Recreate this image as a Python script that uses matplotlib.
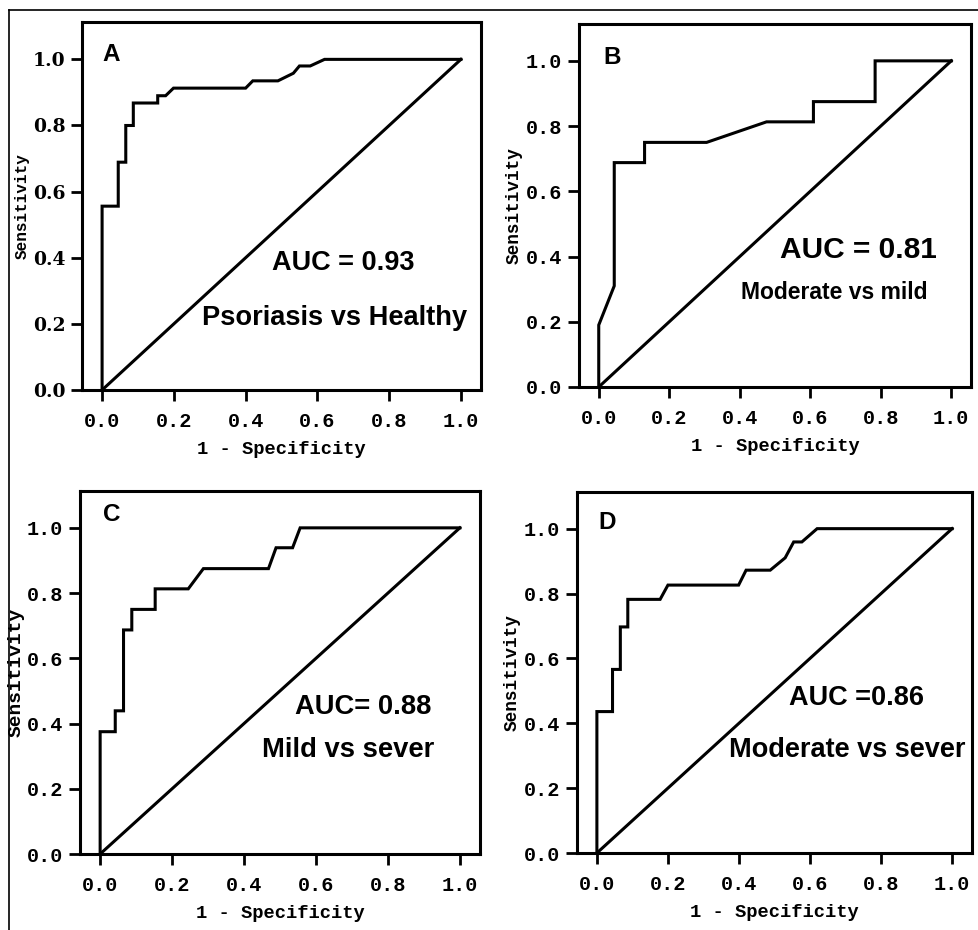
import numpy as np
import matplotlib.pyplot as plt
from matplotlib.lines import Line2D

# ROC points (1 - specificity, sensitivity)
fpr_a = [0, 0, 0.045, 0.045, 0.066, 0.066, 0.087, 0.087, 0.155, 0.155, 0.177, 0.199, 0.40, 0.42,
         0.49, 0.533, 0.55, 0.58, 0.62, 1.0]
tpr_a = [0, 0.556, 0.556, 0.689, 0.689, 0.80, 0.80, 0.868, 0.868, 0.89, 0.89, 0.913, 0.913, 0.935,
         0.935, 0.958, 0.98, 0.98, 1.0, 1.0]

fpr_b = [0, 0, 0.044, 0.044, 0.13, 0.13, 0.306, 0.476, 0.609, 0.609, 0.784, 0.784, 1.0]
tpr_b = [0, 0.19, 0.31, 0.688, 0.688, 0.75, 0.75, 0.813, 0.813, 0.875, 0.875, 1.0, 1.0]

fpr_c = [0, 0, 0.042, 0.042, 0.065, 0.065, 0.088, 0.088, 0.153, 0.153, 0.245, 0.287, 0.468, 0.489,
         0.535, 0.556, 1.0]
tpr_c = [0, 0.375, 0.375, 0.439, 0.439, 0.687, 0.687, 0.75, 0.75, 0.813, 0.813, 0.875, 0.875, 0.939,
         0.939, 1.0, 1.0]

fpr_d = [0, 0, 0.044, 0.044, 0.066, 0.066, 0.087, 0.087, 0.178, 0.20, 0.399, 0.42, 0.488, 0.53,
         0.554, 0.577, 0.62, 1.0]
tpr_d = [0, 0.436, 0.436, 0.566, 0.566, 0.697, 0.697, 0.782, 0.782, 0.826, 0.826, 0.872, 0.872, 0.91,
         0.959, 0.959, 1.0, 1.0]

panel_letters = ['A', 'B', 'C', 'D']
auc_texts = ['AUC = 0.93', 'AUC = 0.81', 'AUC= 0.88', 'AUC =0.86']
group_texts = ['Psoriasis vs Healthy', 'Moderate vs mild', 'Mild vs sever', 'Moderate vs sever']
ticks = [0.0, 0.2, 0.4, 0.6, 0.8, 1.0]
tick_labels = ['0.0', '0.2', '0.4', '0.6', '0.8', '1.0']

W, H = 979, 930
fig = plt.figure(figsize=(W / 100, H / 100), dpi=100)

# frame around the whole figure (top and left edges visible)
fig.add_artist(Line2D([9 / W, 9 / W], [0, 1 - 10 / H], color='black', lw=1.2, transform=fig.transFigure))
fig.add_artist(Line2D([9 / W, 1], [1 - 10 / H, 1 - 10 / H], color='black', lw=1.2, transform=fig.transFigure))

# axes boxes in pixels: left, right, top, bottom
boxes = [(82, 481, 22, 390), (579, 971, 24, 387), (80, 480, 491, 854), (577, 972, 492, 853)]
curves = [(fpr_a, tpr_a), (fpr_b, tpr_b), (fpr_c, tpr_c), (fpr_d, tpr_d)]
letter_pos = [(0.0, 1.015), (0.012, 1.01), (0.008, 1.04), (0.005, 1.02)]
auc_pos = [(0.672, 0.384), (0.736, 0.419), (0.732, 0.45), (0.732, 0.477)]
group_pos = [(0.649, 0.217), (0.668, 0.291), (0.69, 0.319), (0.704, 0.318)]
auc_size = [19.5, 21.5, 19.7, 19.5]
group_size = [19.6, 16.5, 19.7, 19.5]
ylabel_size = [11.5, 12.8, 14, 12.8]
ylabel_pad = [2, 2, 2, 2]

mono = ['Liberation Mono', 'DejaVu Sans Mono']
sans = ['Liberation Sans', 'DejaVu Sans']

for i in range(4):
    l, r, t, b = boxes[i]
    ax = fig.add_axes([l / W, 1 - b / H, (r - l) / W, (b - t) / H])
    ax.set_xlim(-0.056, 1.056)
    ax.set_ylim(0, 1.113)
    x, y = curves[i]
    ax.plot(x, y, color='black', lw=2.2, clip_on=False, solid_joinstyle='miter')
    ax.plot([0, 1], [0, 1], color='black', lw=2.2, clip_on=False)
    for s in ax.spines.values():
        s.set_linewidth(2.2)
    ax.set_xticks(ticks)
    ax.set_yticks(ticks)
    ax.set_xticklabels(tick_labels, family=mono, fontweight='bold', fontsize=14.5)
    if i == 0:
        ax.set_yticklabels(tick_labels, family=['DejaVu Serif'], fontweight='bold', fontsize=13.5)
    else:
        ax.set_yticklabels(tick_labels, family=mono, fontweight='bold', fontsize=14.5)
    ax.tick_params(direction='out', length=8, width=2, pad=4)
    ax.tick_params(axis='x', pad=8)
    ax.set_xlabel('1 - Specificity', family=mono, fontweight='bold', fontsize=13.5, labelpad=7)
    ax.set_ylabel('Sensitivity', family=mono, fontweight='bold',
                  fontsize=ylabel_size[i], labelpad=ylabel_pad[i])
    ax.text(letter_pos[i][0], letter_pos[i][1], panel_letters[i], family=sans, fontweight='bold',
            fontsize=17.5, ha='left', va='center')
    ax.text(auc_pos[i][0], auc_pos[i][1], auc_texts[i], family=sans, fontweight='bold',
            fontsize=auc_size[i], ha='center', va='center')
    ax.text(group_pos[i][0], group_pos[i][1], group_texts[i], family=sans, fontweight='bold',
            fontsize=group_size[i], ha='center', va='center')

fig.savefig('out.png', dpi=100)
